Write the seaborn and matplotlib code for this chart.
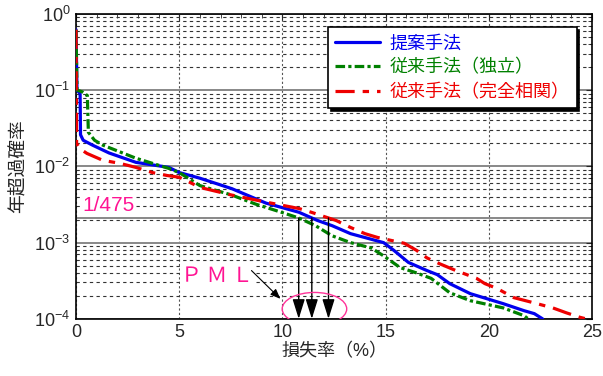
import numpy as np
import pandas as pd
import matplotlib
matplotlib.use("Agg")
import matplotlib.pyplot as plt
import seaborn as sns
from matplotlib.patches import Ellipse

# loss ratio (%) vs annual exceedance probability
prop_x = [0, 0.05, 0.2, 0.22, 0.35, 0.8, 1.6, 2.9, 4.5, 5.0, 6.0, 7.55, 9.2, 10.8,
          11.7, 12.4, 13.3, 14.9, 15.4, 16.1, 17.0, 17.5, 18.1, 19.1, 20.7, 21.7, 22.2, 22.6]
prop_y = [0.62, 0.1, 0.09, 0.026, 0.022, 0.019, 0.015, 0.0113, 0.0097, 0.0083, 0.0070,
          0.0051, 0.0033, 0.0025, 0.00195, 0.00167, 0.00131, 0.0010, 0.00079, 0.00055,
          0.00043, 0.00038, 0.00029, 0.000214, 0.000158, 0.000128, 0.000117, 0.0001]

indep_x = [0, 0.05, 0.3, 0.55, 0.6, 0.9, 1.3, 2.9, 4.5, 5.0, 6.0, 7.55, 8.7, 9.95, 10.8,
           11.6, 12.4, 13.3, 14.3, 14.9, 15.7, 16.5, 17.2, 18.1, 19.1, 20.7, 21.7, 21.9]
indep_y = [0.62, 0.1, 0.095, 0.085, 0.028, 0.022, 0.019, 0.0128, 0.0094, 0.0083, 0.0056,
           0.0042, 0.0032, 0.0025, 0.0021, 0.00167, 0.00123, 0.0010, 0.00085, 0.00067,
           0.00047, 0.0004, 0.00034, 0.00022, 0.000173, 0.000139, 0.00011, 0.0001]

corr_x = [0, 0.03, 0.2, 0.53, 1.3, 2.1, 2.9, 3.7, 4.4, 5.0, 5.5, 6.0, 7.55, 9.2, 10.8,
          11.4, 12.6, 13.3, 14.0, 14.6, 15.9, 16.5, 17.0, 17.6, 18.4, 19.4, 19.8, 20.4,
          21.2, 22.3, 23.1, 23.75, 24.4, 24.7]
corr_y = [0.62, 0.02, 0.017, 0.0148, 0.012, 0.011, 0.0097, 0.0083, 0.0076, 0.0072, 0.0062,
          0.0053, 0.0042, 0.0034, 0.0028, 0.0025, 0.00195, 0.00158, 0.00131, 0.00117,
          0.00098, 0.00079, 0.00063, 0.00053, 0.00043, 0.00034, 0.00029, 0.00025, 0.00019,
          0.000159, 0.000139, 0.00012, 0.000105, 0.0001]

labels = ["提案手法", "従来手法（独立）", "従来手法（完全相関）"]
colors = ["#0000ee", "#008000", "#ee0000"]
target = 1 / 475

sns.set_style("white")
plt.rcParams["font.family"] = ["Liberation Sans", "Noto Sans CJK JP", "DejaVu Sans"]
plt.rcParams["mathtext.default"] = "regular"

fig = plt.figure(figsize=(6.03, 3.76), dpi=100)
ax = fig.add_axes([0.126, 0.152, 0.856, 0.811])

series = [(prop_x, prop_y), (indep_x, indep_y), (corr_x, corr_y)]
styles = ["-", (0, (3, 1, 1, 1)), (0, (6, 2.5, 2, 2.5))]
for (xs, ys), lab, col, ls in zip(series, labels, colors, styles):
    sns.lineplot(x=xs, y=ys, ax=ax, estimator=None, sort=False, color=col,
                 linewidth=2.3, linestyle=ls, label=lab, zorder=5)

ax.set_yscale("log")
ax.set_xlim(0, 25)
ax.set_ylim(1e-4, 1)
ax.set_xticks([0, 5, 10, 15, 20, 25])
ax.set_xticks(np.arange(0, 26, 1), minor=True)

# grid
ax.grid(True, which="major", axis="y", color="#888888", lw=1.4, ls="-", zorder=1)
ax.grid(True, which="minor", axis="y", color="#333333", lw=0.8, ls=(0, (3, 3)), zorder=1)
ax.grid(True, which="major", axis="x", color="#555555", lw=0.8, ls=(0, (2, 2)), zorder=1)
ax.axhline(target, color="#888888", lw=1.4, zorder=1)

ax.tick_params(which="both", direction="in", top=True, right=True, labelsize=13)
ax.tick_params(which="major", length=4, pad=4)
ax.tick_params(which="minor", length=3)
for s in ax.spines.values():
    s.set_color("black")
    s.set_linewidth(1.2)

ax.set_xlabel("損失率（%）", fontsize=13, labelpad=1)
ax.set_ylabel("年超過確率", fontsize=13.5, labelpad=5)

# PML arrows at the 1/475 crossings
for xs, ys in series:
    lx = np.log10(ys)[::-1]
    xc = np.interp(np.log10(target), lx, np.array(xs)[::-1])
    ax.annotate("", xy=(xc, 1e-4), xytext=(xc, target),
                arrowprops=dict(arrowstyle="-|>,head_length=0.8,head_width=0.25",
                                color="black", lw=1, shrinkA=0, shrinkB=0,
                                mutation_scale=15), zorder=6)

ax.text(0.3, 0.0031, "1/475", color="#ff1493", fontsize=15, va="center",
        family=["Liberation Sans Narrow", "Liberation Sans"],
        bbox=dict(facecolor="white", edgecolor="none", pad=1), zorder=4)
ax.text(5.1, 3.7e-4, "Ｐ Ｍ Ｌ", color="#ff1493", fontsize=15, va="center",
        family=["Noto Sans CJK JP", "DejaVu Sans"],
        bbox=dict(facecolor="white", edgecolor="none", pad=1), zorder=4)
ax.annotate("", xy=(9.9, 1.83e-4), xytext=(8.5, 4.3e-4),
            arrowprops=dict(arrowstyle="-|>,head_length=0.5,head_width=0.2",
                            color="black", lw=0.8, shrinkA=0, shrinkB=0,
                            mutation_scale=12), zorder=6)

fig.canvas.draw()
cx, cy = ax.transAxes.inverted().transform(ax.transData.transform((11.55, 1.35e-4)))
ax.add_patch(Ellipse((cx, cy), 0.125, 0.108, transform=ax.transAxes, fill=False,
                     edgecolor="#ff3399", lw=1, zorder=7))

leg = ax.legend(loc="upper right", bbox_to_anchor=(0.97, 0.957), borderaxespad=0,
                frameon=True, fancybox=False, edgecolor="black",
                shadow={"color": "black", "alpha": 1}, handlelength=2.5,
                handletextpad=0.5, labelspacing=0.35, borderpad=0.4, framealpha=1,
                prop={"family": ["Noto Sans CJK JP", "DejaVu Sans"], "size": 13})
leg.get_frame().set_linewidth(1.2)
leg.set_zorder(10)
for txt, col in zip(leg.get_texts(), colors):
    txt.set_color(col)

fig.savefig("out.png", dpi=100)
